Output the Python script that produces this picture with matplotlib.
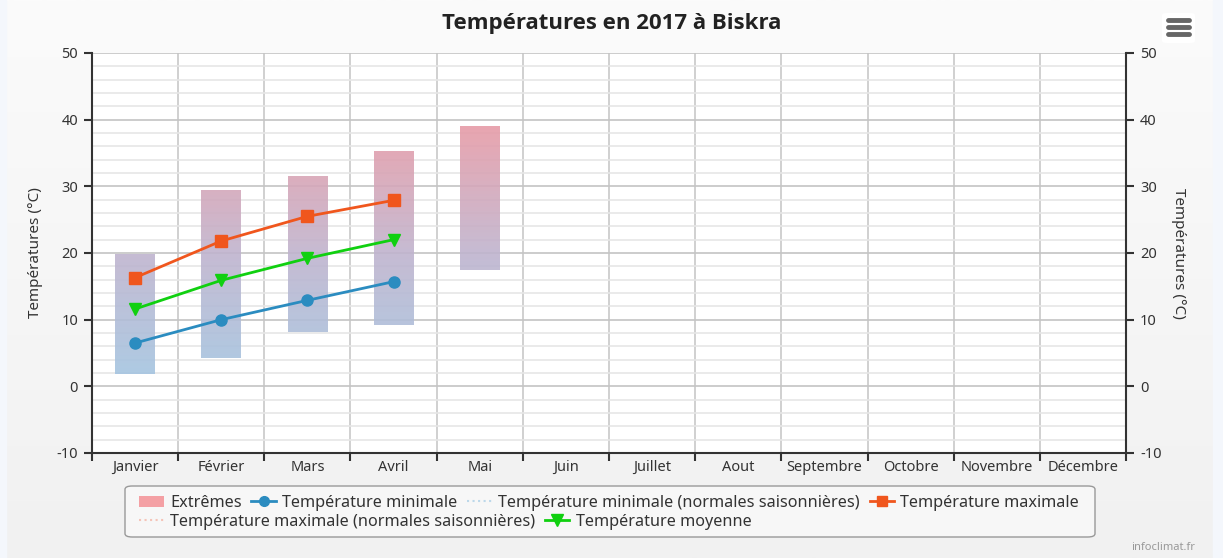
"""
Températures mensuelles 2017 à Biskra : extrêmes en barres dégradées,
minimale / maximale / moyenne en lignes.
"""

import matplotlib
matplotlib.use("Agg")
import matplotlib.pyplot as plt
import numpy as np
from matplotlib.patches import FancyBboxPatch, Rectangle
from matplotlib.lines import Line2D
from matplotlib.colors import LinearSegmentedColormap, Normalize

plt.rcParams['font.family'] = ['Noto Sans', 'DejaVu Sans']
plt.rcParams['axes.unicode_minus'] = False

# Données
mois = ['Janvier', 'Février', 'Mars', 'Avril', 'Mai', 'Juin', 'Juillet',
        'Aout', 'Septembre', 'Octobre', 'Novembre', 'Décembre']
extreme_bas = [1.9, 4.3, 8.2, 9.2, 17.4]
extreme_haut = [19.8, 29.4, 31.5, 35.2, 38.9]
t_min = [6.5, 10.0, 12.9, 15.7]
t_max = [16.3, 21.8, 25.5, 27.9]
t_moy = [11.6, 15.9, 19.2, 22.0]

W, H = 1223, 558
fig = plt.figure(figsize=(W / 100, H / 100), dpi=100)
fig.patch.set_facecolor('#f3f3f3')

# fond du cadre : léger dégradé clair vers le haut
bg = fig.add_axes([0, 0, 1, 1], zorder=-10)
grad = np.linspace(0, 1, 256).reshape(-1, 1)
bg.imshow(grad, aspect='auto', extent=[0, 1, 0, 1], origin='lower',
          cmap=LinearSegmentedColormap.from_list('bg', ['#f1f1f1', '#fbfbfb']))
bg.add_patch(Rectangle((0, 0), 6 / W, 1, color='#f4f7fc', transform=bg.transAxes))
bg.add_patch(Rectangle((1 - 10 / W, 0), 10 / W, 1, color='#f4f7fc', transform=bg.transAxes))
bg.set_xlim(0, 1)
bg.set_ylim(0, 1)
bg.axis('off')

ax = fig.add_axes([92 / W, 1 - 453 / H, (1126 - 92) / W, 400 / H])
ax.set_facecolor('white')
x = np.arange(len(mois))

# barres des extrêmes avec dégradé bleu -> rose selon la valeur
cmap = LinearSegmentedColormap.from_list('ext', ['#a2c6e2', '#c0b4ce', '#e99aa5'])
norm = Normalize(0, 40)
bw = 0.46
for i, (lo, hi) in enumerate(zip(extreme_bas, extreme_haut)):
    vals = np.linspace(lo, hi, 200).reshape(-1, 1)
    ax.imshow(vals, aspect='auto', origin='lower', cmap=cmap, norm=norm,
              extent=[i - bw / 2, i + bw / 2, lo, hi], alpha=0.9, zorder=2)

ax.plot(x[:4], t_min, color='#2b8cc0', lw=2, marker='o', ms=8, zorder=4)
ax.plot(x[:4], t_max, color='#f0561d', lw=2, marker='s', ms=8, zorder=4)
ax.plot(x[:4], t_moy, color='#10d010', lw=2, marker='v', ms=9, zorder=4)

ax.set_xlim(-0.5, 11.5)
ax.set_ylim(-10, 50)
ax.set_yticks(range(-10, 51, 10))
ax.set_yticks(range(-10, 51, 2), minor=True)
ax.set_xticks(x)
ax.set_xticklabels(mois)
ax.set_xticks(np.arange(-0.5, 12, 1), minor=True)

ax.grid(True, axis='y', which='major', color='#c4c4c4', lw=1.2, zorder=0)
ax.grid(True, axis='y', which='minor', color='#e6e6e6', lw=1.2, zorder=0)
ax.grid(True, axis='x', which='minor', color='#c8c8c8', lw=1.2, zorder=0)
ax.set_axisbelow(True)

ax.tick_params(axis='x', which='major', length=0, pad=5, labelsize=10.5, labelcolor='#333333')
ax.tick_params(axis='x', which='minor', length=6, width=1.5, color='#333333', direction='out')
ax.tick_params(axis='y', which='major', length=6, width=1.5, color='#333333',
               labelsize=10.5, labelcolor='#333333', pad=4)
ax.tick_params(axis='y', which='minor', length=0)

for side in ['left', 'right', 'bottom']:
    ax.spines[side].set_color('#333333')
    ax.spines[side].set_linewidth(1.5)
ax.spines['top'].set_visible(False)
ax.set_ylabel('Températures (°C)', fontsize=11, color='#333333', labelpad=10)

ax2 = ax.twinx()
ax2.set_ylim(-10, 50)
ax2.set_yticks(range(-10, 51, 10))
ax2.tick_params(axis='y', length=6, width=1.5, color='#333333',
                labelsize=10.5, labelcolor='#333333', pad=4)
for s in ax2.spines.values():
    s.set_visible(False)
ax2.set_ylabel('Températures (°C)', fontsize=11, color='#333333',
               rotation=270, labelpad=18)

fig.text(0.5, 1 - 24 / H, 'Températures en 2017 à Biskra', ha='center', va='center',
         fontsize=16, fontweight='bold', color='#222222',
         family=['Open Sans', 'DejaVu Sans'])

# icône menu
fig.patches.append(FancyBboxPatch((1162 / W, 1 - 43 / H), 33 / W, 30 / H,
                                  boxstyle='round,pad=0,rounding_size=0.004',
                                  transform=fig.transFigure, facecolor='white',
                                  edgecolor='none'))
for yy in [20, 27, 34]:
    fig.lines.append(Line2D([1168 / W, 1189 / W], [1 - yy / H, 1 - yy / H],
                            transform=fig.transFigure, color='#666666', lw=3.5,
                            solid_capstyle='round'))

# légende sur deux lignes
fig.patches.append(FancyBboxPatch((125 / W, 1 - 537 / H), 970 / W, 51 / H,
                                  boxstyle='round,pad=0,rounding_size=0.006',
                                  transform=fig.transFigure, facecolor='#f7f7f7',
                                  edgecolor='#999999', lw=1))
row1 = [Rectangle((0, 0), 1, 1, facecolor='#f4a0a4', edgecolor='none'),
        Line2D([], [], color='#2b8cc0', lw=2, marker='o', ms=7),
        Line2D([], [], color='#bcd8ea', lw=1.5, ls=':'),
        Line2D([], [], color='#f0561d', lw=2, marker='s', ms=7)]
labels1 = ['Extrêmes', 'Température minimale',
           'Température minimale (normales saisonnières)', 'Température maximale']
row2 = [Line2D([], [], color='#f5c4b8', lw=1.5, ls=':'),
        Line2D([], [], color='#10d010', lw=2, marker='v', ms=8)]
labels2 = ['Température maximale (normales saisonnières)', 'Température moyenne']
leg_kw = dict(frameon=False, fontsize=11.7, handlelength=1.5, handletextpad=0.4,
              columnspacing=0.6, loc='center left', borderpad=0, labelcolor='#333333')
fig.legend(row1, labels1, ncol=4, bbox_to_anchor=(131 / W, 1 - 503 / H), **leg_kw)
fig.legend(row2, labels2, ncol=2, bbox_to_anchor=(131 / W, 1 - 522 / H), **leg_kw)

fig.text(1 - 28 / W, 1 - 548 / H, 'infoclimat.fr', ha='right', va='center',
         fontsize=8, color='#999999')

fig.savefig('out.png', dpi=100, facecolor=fig.get_facecolor())
